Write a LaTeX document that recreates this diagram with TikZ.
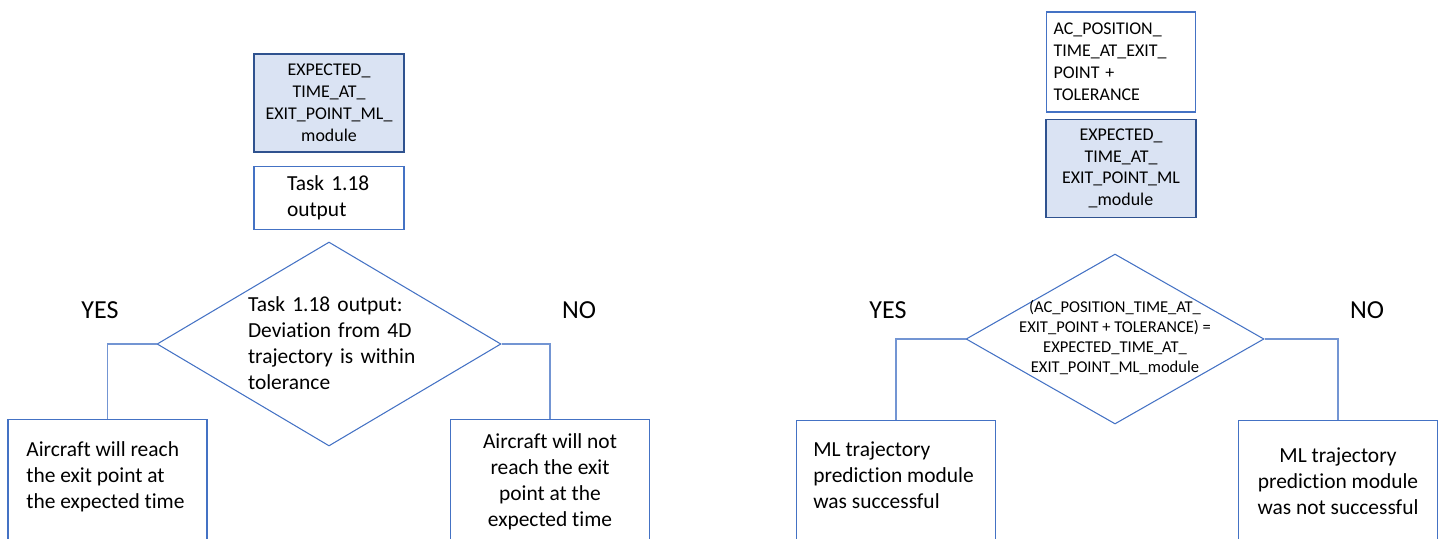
\documentclass[tikz,border=0pt]{standalone}
\usepackage{fontspec}
\setmainfont{Carlito}[Ligatures=NoCommon]
\usetikzlibrary{positioning,shapes.geometric}

\definecolor{boxline}{HTML}{4472C4}
\definecolor{boxdark}{HTML}{2F528F}
\definecolor{boxfill}{HTML}{DAE3F3}

\newcommand{\txtbody}{\fontsize{12.2}{14.8}\selectfont}
\newcommand{\txtbox}{\fontsize{10.2}{12.5}\selectfont}
\newcommand{\txtcond}{\fontsize{9.4}{11.4}\selectfont}
\newcommand{\txtlabel}{\fontsize{14.8}{17}\selectfont}

\begin{document}
\begin{tikzpicture}[x=0.02cm, y=-0.02cm,
        inbox/.style={draw=boxdark, line width=0.8pt, fill=boxfill, minimum width=3cm,
            minimum height=1.96cm, align=center, font=\txtbox, inner sep=0pt},
        plainbox/.style={draw=boxline, line width=0.8pt, minimum width=3cm, inner sep=0pt},
        decision/.style={diamond, draw=boxline, line width=0.6pt, inner sep=0pt},
        condtext/.style={font=\txtcond, inner sep=0pt},
        outbox/.style={draw=boxline, line width=0.8pt, minimum width=3.98cm,
            minimum height=2.82cm, inner sep=0pt},
        outtext/.style={font=\txtbody, align=left, inner sep=0pt},
        link/.style={draw=boxline!75, line width=0.7pt},
        answer/.style={font=\txtlabel, inner sep=0pt}]
        \useasboundingbox (0,0) rectangle (1442,538);
        \clip (0,0) rectangle (1442,538);

        % deviation check
        \node[inbox] (expL) at (329,103) {EXPECTED\_\\TIME\_AT\_\\EXIT\_POINT\_ML\_\\module};
        \node[plainbox, below=0.26cm of expL, minimum height=1.26cm, font=\txtbody,
            text width=1.68cm, align=left] (task) {Task 1.18\\output};

        \node[decision, minimum width=6.88cm, minimum height=4.08cm] (devL) at (329,344) {};
        \node[condtext, font=\txtbody, text width=3.4cm, align=left] (devLtxt) at (333,343)
            {Task 1.18 output:\\Deviation from 4D\\trajectory is within\\tolerance};

        \node[outbox, anchor=north] (reachY) at (107.5,419) {};
        \node[outtext, anchor=north west] (reachYtxt) at (26,441.5)
            {Aircraft will reach\\the exit point at\\the expected time};
        \node[outbox, anchor=north] (reachN) at (550,419) {};
        \node[outtext, anchor=north, align=center] (reachNtxt) at (550,433.5)
            {Aircraft will not\\reach the exit\\point at the\\expected time};

        \draw[link] (devL.west) -| (reachY.north);
        \draw[link] (devL.east) -| (reachN.north);
        \node[answer] (yesL) at (100,310) {YES};
        \node[answer] (noL) at (579,310) {NO};

        % ML module check
        \node[plainbox, minimum width=2.98cm, minimum height=2cm, font=\txtbox,
            text width=2.7cm, align=left] (acpos) at (1121,62)
            {AC\_POSITION\_\\TIME\_AT\_EXIT\_\\POINT +\\TOLERANCE};
        \node[inbox, below=0.12cm of acpos] (expR) {EXPECTED\_\\TIME\_AT\_\\EXIT\_POINT\_ML\\\_module};

        \node[decision, minimum width=5.96cm, minimum height=3.4cm] (cmpR) at (1115,339) {};
        \node[condtext, align=center] (cmpRtxt) at (1115,338)
            {(AC\_POSITION\_TIME\_AT\_\\EXIT\_POINT + TOLERANCE) =\\EXPECTED\_TIME\_AT\_\\EXIT\_POINT\_ML\_module};

        \node[outbox, anchor=north] (succY) at (896,420) {};
        \node[outtext, anchor=north west] (succYtxt) at (813,441.5)
            {ML trajectory\\prediction module\\was successful};
        \node[outbox, anchor=north] (succN) at (1338,420) {};
        \node[outtext, anchor=north, align=center] (succNtxt) at (1338,447.5)
            {ML trajectory\\prediction module\\was not successful};

        \draw[link] (cmpR.west) -| (succY.north);
        \draw[link] (cmpR.east) -| (succN.north);
        \node[answer] (yesR) at (888,310) {YES};
        \node[answer] (noR) at (1367,310) {NO};
    \end{tikzpicture}
\end{document}
